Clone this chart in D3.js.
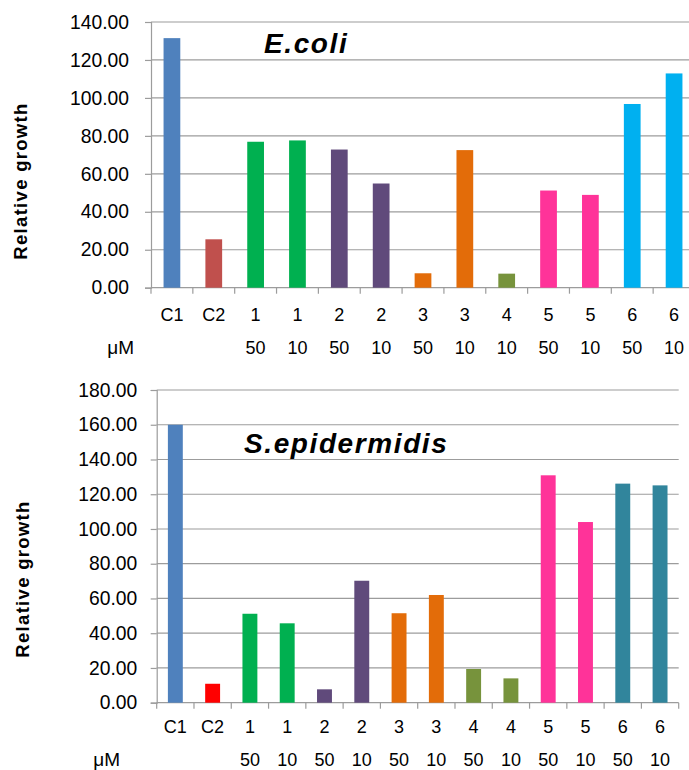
<!DOCTYPE html>
<html>
<head>
<meta charset="utf-8">
<script src="https://cdn.jsdelivr.net/npm/d3@7"></script>
<style>
  html, body { margin: 0; padding: 0; background: #fff; }
  svg { display: block; }
  text { font-family: "Liberation Sans", Arial, Helvetica, sans-serif; fill: #000; }
</style>
</head>
<body>
<svg id="chart" width="689" height="770"></svg>
<script>
// ---- Data ----
const ecoliCompounds = ["C1","C2","1","1","2","2","3","3","4","5","5","6","6"];
const ecoliConc      = ["","","50","10","50","10","50","10","10","50","10","50","10"];
const ecoliValues    = [131.5, 25.5, 76.9, 77.6, 72.8, 54.9, 7.6, 72.5, 7.4, 51.2, 48.9, 96.8, 112.9];
const ecoliColors    = ["#4F81BD","#C0504D","#00B050","#00B050","#604A7B","#604A7B","#E36C09","#E36C09","#77933C","#FF3399","#FF3399","#00B0F0","#00B0F0"];
const ecoliTicks     = [0, 20, 40, 60, 80, 100, 120, 140];

const sepiCompounds  = ["C1","C2","1","1","2","2","3","3","4","4","5","5","6","6"];
const sepiConc       = ["","","50","10","50","10","50","10","50","10","50","10","50","10"];
const sepiValues     = [160.0, 10.9, 51.2, 45.7, 7.7, 70.2, 51.5, 62.0, 19.4, 14.0, 130.9, 104.0, 126.1, 125.1];
const sepiColors     = ["#4F81BD","#FF0000","#00B050","#00B050","#604A7B","#604A7B","#E36C09","#E36C09","#77933C","#77933C","#FF3399","#FF3399","#31859C","#31859C"];
const sepiTicks      = [0, 20, 40, 60, 80, 100, 120, 140, 160, 180];

const svg = d3.select("#chart");

function drawPanel(cfg) {
  const g = svg.append("g");
  const n = cfg.values.length;
  const x = d3.scaleBand().domain(d3.range(n)).range([cfg.x0, cfg.x1])
    .paddingInner(0.6).paddingOuter(0.3);
  const y = d3.scaleLinear().domain([0, cfg.max]).range([cfg.yBottom, cfg.yTop]);
  const step = x.step();

  // gridlines
  g.append("g").selectAll("line").data(cfg.ticks.filter(t => t > 0)).join("line")
    .attr("x1", cfg.x0).attr("x2", cfg.gridEnd)
    .attr("y1", d => y(d)).attr("y2", d => y(d))
    .attr("stroke", "#9c9c9c").attr("stroke-width", 1.2);

  // y axis
  const yAxis = d3.axisLeft(y).tickValues(cfg.ticks).tickFormat(d3.format(".2f")).tickSize(6).tickPadding(cfg.tickPad);
  const ya = g.append("g").attr("transform", `translate(${cfg.x0},0)`).call(yAxis);
  ya.select(".domain").attr("stroke", "#9c9c9c").attr("stroke-width", 1.2);
  ya.selectAll(".tick line").attr("stroke", "#9c9c9c").attr("stroke-width", 1.2);
  ya.selectAll(".tick text").attr("font-size", "19.3px")
    .attr("font-family", "'Liberation Sans', Arial, sans-serif").attr("fill", "#000");

  // x axis line
  g.append("line").attr("x1", cfg.x0).attr("x2", cfg.gridEnd)
    .attr("y1", y(0)).attr("y2", y(0)).attr("stroke", "#9c9c9c").attr("stroke-width", 1.2);
  // boundary ticks
  const bounds = d3.range(n + 1).map(i => i < n ? x(i) - step * 0.3 : cfg.x1);
  g.append("g").selectAll("line").data(bounds).join("line")
    .attr("x1", d => d).attr("x2", d => d)
    .attr("y1", y(0)).attr("y2", y(0) + 6)
    .attr("stroke", "#9c9c9c").attr("stroke-width", 1.2);

  // bars
  g.append("g").selectAll("rect").data(cfg.values).join("rect")
    .attr("x", (d, i) => x(i)).attr("width", x.bandwidth())
    .attr("y", d => y(d)).attr("height", d => y(0) - y(d))
    .attr("fill", (d, i) => cfg.colors[i]);

  // category labels
  g.append("g").selectAll("text").data(cfg.compounds).join("text")
    .attr("x", (d, i) => x(i) + x.bandwidth() / 2).attr("y", cfg.row1)
    .attr("text-anchor", "middle").attr("font-size", "18px").text(d => d);
  g.append("g").selectAll("text").data(cfg.conc).join("text")
    .attr("x", (d, i) => x(i) + x.bandwidth() / 2).attr("y", cfg.row2)
    .attr("text-anchor", "middle").attr("font-size", "18px").text(d => d);
  g.append("text").attr("x", cfg.muX).attr("y", cfg.row2)
    .attr("text-anchor", "end").attr("font-size", "19px").text("\u03BCM");

  // y axis title
  g.append("text")
    .attr("transform", `translate(${cfg.yTitleX},${cfg.yTitleY}) rotate(-90)`)
    .attr("text-anchor", "middle").attr("font-size", "18.5px").attr("font-weight", "bold")
    .attr("letter-spacing", "1.3px").text("Relative growth");

  // species title
  g.append("text").attr("x", cfg.titleX).attr("y", cfg.titleY)
    .attr("font-size", "28px").attr("font-weight", "bold").attr("font-style", "italic")
    .attr("letter-spacing", "1.6px").text(cfg.title);
}

drawPanel({
  values: ecoliValues, colors: ecoliColors, compounds: ecoliCompounds, conc: ecoliConc,
  ticks: ecoliTicks, max: 140,
  x0: 151, x1: 695, gridEnd: 695, yTop: 22, yBottom: 287.7, tickPad: 16,
  row1: 321, row2: 353.5, muX: 134,
  yTitleX: 27, yTitleY: 181,
  title: "E.coli", titleX: 264, titleY: 52.7
});

drawPanel({
  values: sepiValues, colors: sepiColors, compounds: sepiCompounds, conc: sepiConc,
  ticks: sepiTicks, max: 180,
  x0: 156.7, x1: 678.7, gridEnd: 678.7, yTop: 390, yBottom: 702.7, tickPad: 13.5,
  row1: 733.3, row2: 766, muX: 120,
  yTitleX: 29, yTitleY: 579,
  title: "S.epidermidis", titleX: 244, titleY: 453.3
});
</script>
</body>
</html>
